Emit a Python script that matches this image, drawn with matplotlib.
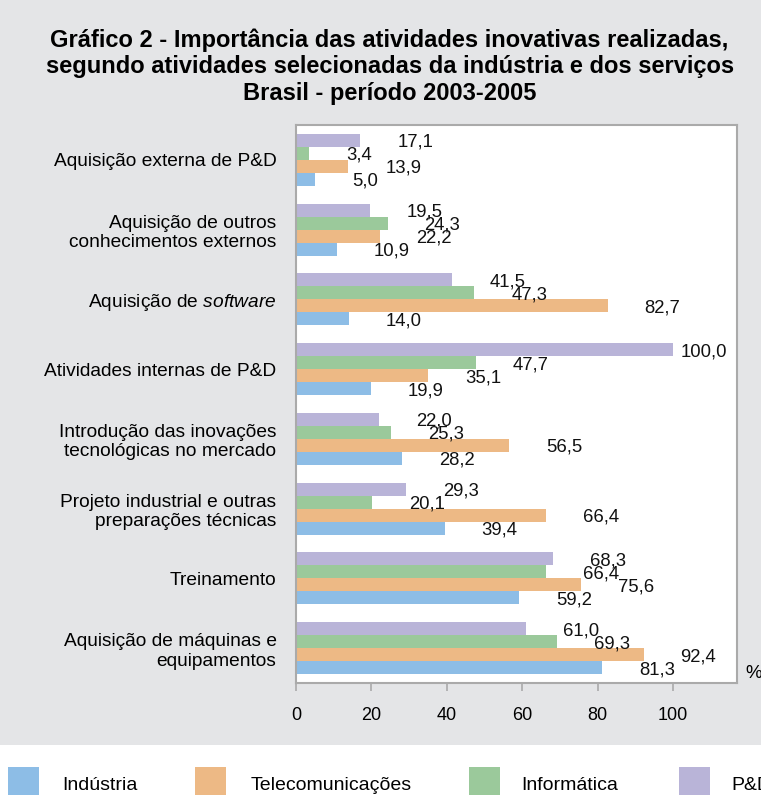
import numpy as np
import matplotlib
matplotlib.use("Agg")
from matplotlib import pyplot as plt
from matplotlib.patches import Rectangle

plt.rcParams['font.family'] = ['Liberation Sans', 'DejaVu Sans']
plt.rcParams['mathtext.fontset'] = 'custom'
plt.rcParams['mathtext.it'] = 'Liberation Sans:italic'
plt.rcParams['mathtext.rm'] = 'Liberation Sans'

categories = ['Aquisição externa de P&D',
              'Aquisição de outros\nconhecimentos externos',
              'Aquisição de $\\it{software}$',
              'Atividades internas de P&D',
              'Introdução das inovações\ntecnológicas no mercado',
              'Projeto industrial e outras\npreparações técnicas',
              'Treinamento',
              'Aquisição de máquinas e\nequipamentos']

series = ['Indústria', 'Telecomunicações', 'Informática', 'P&D']
industria = [5.0, 10.9, 14.0, 19.9, 28.2, 39.4, 59.2, 81.3]
telecom = [13.9, 22.2, 82.7, 35.1, 56.5, 66.4, 75.6, 92.4]
informatica = [3.4, 24.3, 47.3, 47.7, 25.3, 20.1, 66.4, 69.3]
ped = [17.1, 19.5, 41.5, 100.0, 22.0, 29.3, 68.3, 61.0]

colors = ['#8dbde6', '#edb985', '#9bc99b', '#b9b4d8']
bg = '#e4e5e7'

fig = plt.figure(figsize=(7.61, 7.95), dpi=100, facecolor=bg)
fig.add_artist(Rectangle((0, 0), 1, 50 / 795, transform=fig.transFigure,
                         facecolor='white', edgecolor='none', zorder=0))

ax = fig.add_axes([296 / 761, 112 / 795, 441 / 761, 558 / 795])
ax.set_facecolor('white')

y = np.arange(len(categories))
h = 0.186
data = [industria, telecom, informatica, ped]
for k, (vals, col) in enumerate(zip(data, colors)):
    off = (1.5 - k) * h
    ax.barh(y + off, vals, height=h, color=col, edgecolor='none', zorder=2)
    for yi, v in zip(y, vals):
        lx = min(v + 9.8, 102)
        ax.annotate(f'{v:.1f}'.replace('.', ','), (lx, yi + off),
                    xytext=(0, -2), textcoords='offset pixels',
                    ha='left', va='center', fontsize=13.3, color='#111111')

ax.set_xlim(0, 117)
ax.set_ylim(len(categories) - 0.5, -0.5)
ax.set_xticks([0, 20, 40, 60, 80, 100])
ax.tick_params(axis='x', length=6, width=1.2, color='#aaaaaa',
               labelsize=13, pad=11)
ax.set_yticks(y)
ax.set_yticklabels(categories, fontsize=13.8, linespacing=1.2)
ax.tick_params(axis='y', length=0, pad=14)
for lbl in ax.get_yticklabels():
    lbl.set_horizontalalignment('right')
for s in ax.spines.values():
    s.set_color('#aaaaaa')
    s.set_linewidth(1.5)

fig.text(745 / 761, 1 - 673 / 795, '%', fontsize=13.5, ha='left', va='center')

fig.text(0.512, 1 - 28 / 795,
         'Gráfico 2 - Importância das atividades inovativas realizadas,\n'
         'segundo atividades selecionadas da indústria e dos serviços\n'
         'Brasil - período 2003-2005',
         ha='center', va='top', fontsize=17, fontweight='bold',
         linespacing=1.22)

# legenda
leg_x = [8, 195, 469, 679]
txt_x = [62, 251, 521, 731]
for name, col, sx, tx in zip(series, colors, leg_x, txt_x):
    fig.add_artist(Rectangle((sx / 761, 0), 31 / 761, 28 / 795,
                             transform=fig.transFigure, facecolor=col,
                             edgecolor='none'))
    fig.text(tx / 761, 1 - 785 / 795, name, fontsize=14,
             ha='left', va='center')

fig.savefig('out.png', dpi=100, facecolor=bg)
